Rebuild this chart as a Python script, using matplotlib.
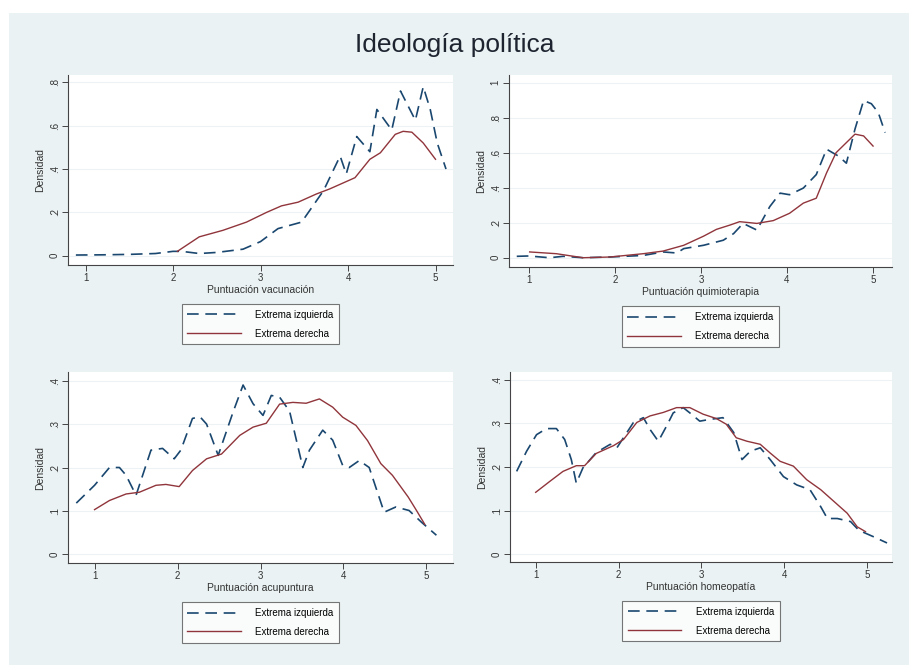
import matplotlib
matplotlib.use("Agg")
import matplotlib.pyplot as plt
from matplotlib.patches import Rectangle
from matplotlib.lines import Line2D

plt.rcParams['font.family'] = ['Liberation Sans', 'DejaVu Sans']

title = "Ideología política"
series_names = ["Extrema izquierda", "Extrema derecha"]
ylabel = "Densidad"

# Panel 1: vacunación
vac_izq_x = [0.89, 1.2, 1.5, 1.8, 2.0, 2.1, 2.3, 2.5, 2.8, 3.0, 3.2, 3.47, 3.72, 3.91, 3.98, 4.10, 4.25, 4.33, 4.50, 4.60, 4.77, 4.86, 4.94, 5.02, 5.12]
vac_izq_y = [0.003, 0.004, 0.006, 0.01, 0.02, 0.02, 0.01, 0.015, 0.03, 0.065, 0.125, 0.155, 0.30, 0.46, 0.377, 0.55, 0.48, 0.675, 0.58, 0.76, 0.625, 0.78, 0.675, 0.52, 0.40]
vac_der_x = [2.05, 2.3, 2.57, 2.84, 3.07, 3.24, 3.43, 3.64, 3.79, 4.08, 4.25, 4.37, 4.54, 4.63, 4.73, 4.86, 5.0]
vac_der_y = [0.02, 0.087, 0.117, 0.155, 0.2, 0.23, 0.247, 0.285, 0.308, 0.36, 0.445, 0.475, 0.56, 0.574, 0.57, 0.52, 0.445]

# Panel 2: quimioterapia
qui_izq_x = [0.86, 1.0, 1.24, 1.4, 1.63, 1.94, 2.33, 2.56, 2.72, 2.8, 3.03, 3.26, 3.38, 3.49, 3.65, 3.8, 3.92, 4.03, 4.19, 4.34, 4.46, 4.6, 4.69, 4.79, 4.89, 4.98, 5.06, 5.14]
qui_izq_y = [0.008, 0.01, 0.0, 0.008, 0.0, 0.004, 0.013, 0.033, 0.027, 0.052, 0.071, 0.1, 0.138, 0.196, 0.158, 0.292, 0.369, 0.36, 0.398, 0.475, 0.62, 0.58, 0.54, 0.735, 0.898, 0.88, 0.83, 0.715]
qui_der_x = [1.01, 1.32, 1.63, 1.94, 2.33, 2.56, 2.8, 3.03, 3.18, 3.34, 3.45, 3.65, 3.84, 4.03, 4.19, 4.34, 4.46, 4.57, 4.73, 4.79, 4.89, 5.0]
qui_der_y = [0.033, 0.023, 0.0, 0.004, 0.023, 0.038, 0.071, 0.123, 0.162, 0.187, 0.206, 0.196, 0.212, 0.254, 0.312, 0.34, 0.485, 0.6, 0.677, 0.706, 0.696, 0.638]

# Panel 3: acupuntura
acu_izq_x = [0.78, 1.0, 1.18, 1.3, 1.38, 1.5, 1.68, 1.82, 1.96, 2.04, 2.18, 2.27, 2.35, 2.49, 2.67, 2.79, 2.91, 3.03, 3.13, 3.23, 3.35, 3.51, 3.59, 3.75, 3.87, 3.99, 4.07, 4.19, 4.31, 4.49, 4.63, 4.79, 4.94, 5.12]
acu_izq_y = [0.118, 0.159, 0.2, 0.2, 0.182, 0.136, 0.24, 0.244, 0.22, 0.24, 0.313, 0.317, 0.30, 0.228, 0.328, 0.39, 0.347, 0.32, 0.366, 0.362, 0.33, 0.2, 0.24, 0.286, 0.263, 0.205, 0.2, 0.216, 0.2, 0.097, 0.109, 0.101, 0.074, 0.044]
acu_der_x = [1.0, 1.18, 1.38, 1.54, 1.74, 1.86, 2.02, 2.18, 2.35, 2.53, 2.75, 2.91, 3.07, 3.23, 3.39, 3.55, 3.71, 3.87, 3.99, 4.15, 4.29, 4.45, 4.59, 4.78, 4.88, 4.98]
acu_der_y = [0.103, 0.124, 0.139, 0.143, 0.159, 0.161, 0.156, 0.193, 0.22, 0.231, 0.274, 0.293, 0.302, 0.346, 0.35, 0.348, 0.358, 0.339, 0.316, 0.297, 0.262, 0.209, 0.182, 0.132, 0.101, 0.069]

# Panel 4: homeopatía
hom_izq_x = [0.77, 0.89, 1.01, 1.13, 1.25, 1.35, 1.43, 1.49, 1.57, 1.73, 1.9, 1.98, 2.18, 2.3, 2.38, 2.48, 2.58, 2.66, 2.78, 2.86, 2.98, 3.1, 3.26, 3.39, 3.49, 3.59, 3.71, 3.83, 3.99, 4.15, 4.31, 4.44, 4.52, 4.64, 4.8, 4.9, 5.08, 5.24]
hom_izq_y = [0.19, 0.236, 0.274, 0.288, 0.288, 0.263, 0.217, 0.163, 0.198, 0.233, 0.252, 0.244, 0.302, 0.313, 0.286, 0.259, 0.294, 0.324, 0.336, 0.324, 0.305, 0.309, 0.313, 0.279, 0.217, 0.236, 0.244, 0.217, 0.178, 0.159, 0.148, 0.109, 0.082, 0.082, 0.075, 0.055, 0.04, 0.026]
hom_der_x = [1.0, 1.17, 1.33, 1.49, 1.59, 1.73, 1.94, 2.06, 2.22, 2.38, 2.54, 2.7, 2.86, 3.02, 3.18, 3.3, 3.42, 3.55, 3.71, 3.83, 3.95, 4.11, 4.27, 4.44, 4.6, 4.76, 4.88, 4.98]
hom_der_y = [0.142, 0.167, 0.19, 0.203, 0.203, 0.231, 0.249, 0.263, 0.302, 0.317, 0.325, 0.336, 0.336, 0.321, 0.311, 0.298, 0.267, 0.259, 0.252, 0.232, 0.213, 0.202, 0.171, 0.148, 0.121, 0.094, 0.063, 0.052]

x_ticks = [1, 2, 3, 4, 5]
y_ticks_1 = [0, 0.2, 0.4, 0.6, 0.8]
y_labels_1 = ["0", ".2", ".4", ".6", ".8"]
y_ticks_2 = [0, 0.2, 0.4, 0.6, 0.8, 1.0]
y_labels_2 = ["0", ".2", ".4", ".6", ".8", "1"]
y_ticks_3 = [0, 0.1, 0.2, 0.3, 0.4]
y_labels_3 = ["0", ".1", ".2", ".3", ".4"]

W, H = 909, 665
BG = "#eaf2f3"
C_IZQ = "#1a476f"
C_DER = "#90353b"

fig = plt.figure(figsize=(W / 100, H / 100), dpi=100, facecolor="white")
fig.patches.append(Rectangle((9 / W, 0), 1 - 9 / W, 1 - 13 / H, transform=fig.transFigure,
                             facecolor=BG, edgecolor="none", zorder=-10))

fig.text(455 / W, 1 - 45 / H, title, ha="center", va="center", fontsize=19, color="#1e2430")

panels = [
    dict(rect=(68, 75, 453, 265), xl=(0.8, 5.2), yl=(-0.043, 0.834), izq=(vac_izq_x, vac_izq_y),
         der=(vac_der_x, vac_der_y), yt=y_ticks_1, ytl=y_labels_1, xlabel="Puntuación vacunación"),
    dict(rect=(509, 75, 892, 267), xl=(0.77, 5.22), yl=(-0.053, 1.044), izq=(qui_izq_x, qui_izq_y),
         der=(qui_der_x, qui_der_y), yt=y_ticks_2, ytl=y_labels_2, xlabel="Puntuación quimioterapia"),
    dict(rect=(68, 372, 453, 563), xl=(0.68, 5.32), yl=(-0.02, 0.42), izq=(acu_izq_x, acu_izq_y),
         der=(acu_der_x, acu_der_y), yt=y_ticks_3, ytl=y_labels_3, xlabel="Puntuación acupuntura"),
    dict(rect=(510, 372, 892, 562), xl=(0.69, 5.30), yl=(-0.0176, 0.4176), izq=(hom_izq_x, hom_izq_y),
         der=(hom_der_x, hom_der_y), yt=y_ticks_3, ytl=y_labels_3, xlabel="Puntuación homeopatía"),
]

for p in panels:
    l, t, r, b = p["rect"]
    ax = fig.add_axes([l / W, 1 - b / H, (r - l) / W, (b - t) / H])
    ax.set_facecolor("white")
    ax.plot(*p["izq"], color=C_IZQ, lw=1.2, dashes=(7, 4), label=series_names[0])
    ax.plot(*p["der"], color=C_DER, lw=1.0, label=series_names[1])
    ax.set_xlim(*p["xl"])
    ax.set_ylim(*p["yl"])
    ax.set_xticks(x_ticks)
    ax.set_xticklabels([str(v) for v in x_ticks])
    ax.set_yticks(p["yt"])
    ax.set_yticklabels(p["ytl"], rotation=90, va="center")
    ax.grid(axis="y", color="#edf3f4", lw=0.8)
    ax.set_axisbelow(True)
    for s in ["top", "right"]:
        ax.spines[s].set_visible(False)
    for s in ["left", "bottom"]:
        ax.spines[s].set_color("#444444")
        ax.spines[s].set_linewidth(0.8)
    ax.tick_params(axis="both", labelsize=7, color="#444444", length=4, width=0.7,
                   labelcolor="#333333", pad=2)
    ax.set_xlabel(p["xlabel"], fontsize=7.5, color="#333333", labelpad=1)
    ax.set_ylabel(ylabel, fontsize=7.5, color="#333333", labelpad=3)
    leg = ax.legend(loc="upper center", bbox_to_anchor=(0.5, -0.18), ncol=1, fontsize=7,
                    frameon=True, fancybox=False, edgecolor="#555555", handlelength=5.5,
                    borderpad=0.6, labelspacing=0.9, handletextpad=1.5)
    leg.get_frame().set_linewidth(0.8)

fig.savefig("out.png", dpi=100, facecolor="white")
